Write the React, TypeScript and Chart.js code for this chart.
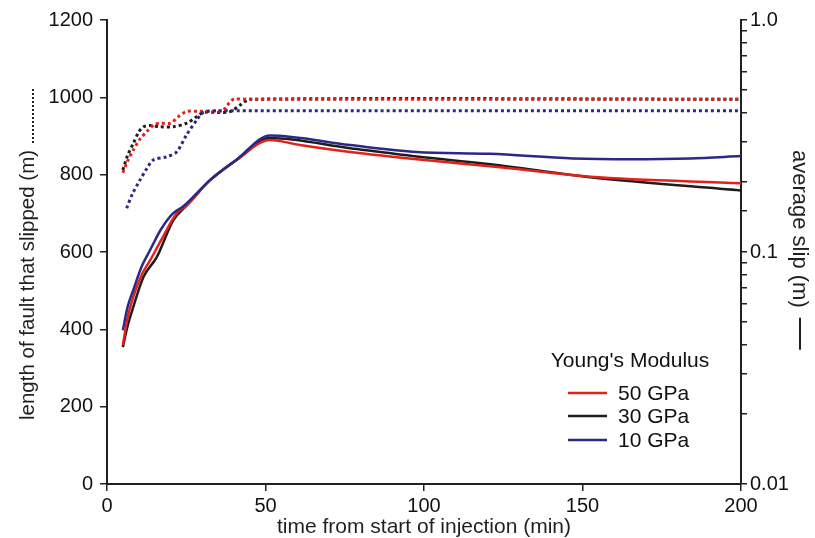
import { useEffect, useRef } from 'react';
import { Chart, registerables } from 'chart.js';

Chart.register(...registerables);

// ---- axis ticks / labels ----
const xTicks = [0, 50, 100, 150, 200];
const lengthTicks = [0, 200, 400, 600, 800, 1000, 1200];
const slipLabelValues = [0.01, 0.1, 1];
const slipTickLabels = ['0.01', '0.1', '1.0'];

const xTitle = 'time from start of injection (min)';
const leftTitle = 'length of fault that slipped (m)';
const rightTitle = 'average slip (m)';
const legendTitle = "Young's Modulus";

const moduli = ['50 GPa', '30 GPa', '10 GPa'];
const colors = ['#e3211c', '#1d1d1b', '#2b2886'];

// ---- length of fault that slipped (m), dotted ----
const len50T = [5, 6.5, 8.3, 10.5, 12.5, 15, 17, 20, 22.5, 25, 29, 33, 36.5, 38.5, 40, 45, 200];
const len50 = [805, 835, 864, 893, 911, 930, 933, 933, 950, 963, 964, 964, 966, 985, 995, 995, 995];

const len30T = [5, 6.5, 8.3, 10, 11.5, 13.6, 16.7, 20.9, 25.1, 28.3, 30.4, 35, 38.8, 42, 45.1, 200];
const len30 = [812, 850, 881, 910, 924, 927, 924, 924, 933, 950, 961, 961, 963, 980, 995, 995];

const len10T = [6.2, 8, 10.4, 12.5, 14.6, 18.8, 22, 25.1, 28.3, 30.4, 35, 200];
const len10 = [713, 750, 786, 815, 838, 846, 859, 903, 941, 961, 965, 965];

// ---- average slip (m), solid ----
const slip50T = [5, 6.5, 8.3, 11, 13.6, 17, 22, 25, 32.5, 40.9, 51.4, 60.9, 76.7, 97.7, 124, 152.4, 200];
const slip50 = [0.0397, 0.052, 0.064, 0.08, 0.092, 0.112, 0.147, 0.158, 0.204, 0.249, 0.304, 0.289, 0.27, 0.251, 0.232, 0.211, 0.198];

const slip30T = [5, 6.5, 8.3, 11.5, 15.7, 20.9, 25, 32.5, 40.9, 51.4, 76.7, 97.7, 121, 152.4, 200];
const slip30 = [0.0389, 0.048, 0.058, 0.078, 0.095, 0.137, 0.158, 0.204, 0.25, 0.31, 0.28, 0.258, 0.239, 0.21, 0.184];

const slip10T = [5, 6.5, 8.3, 11, 13.6, 17, 20.9, 24, 32.5, 40.9, 51.4, 76.7, 97.7, 120.8, 147, 165, 184, 200];
const slip10 = [0.046, 0.058, 0.0686, 0.087, 0.102, 0.125, 0.147, 0.157, 0.204, 0.25, 0.318, 0.289, 0.27, 0.265, 0.253, 0.251, 0.253, 0.259];

const FONT = '"Liberation Sans", Arial, sans-serif';
const AXIS = '#231f20';

const pts = (t: number[], v: number[]) => t.map((x, i) => ({ x, y: v[i] }));

const titlesAndLegend = {
  id: 'titlesAndLegend',
  afterDraw(chart: any) {
    const ctx = chart.ctx as CanvasRenderingContext2D;
    const area = chart.chartArea;
    ctx.save();
    ctx.fillStyle = AXIS;
    ctx.strokeStyle = AXIS;

    // x title
    ctx.font = `21px ${FONT}`;
    ctx.textAlign = 'center';
    ctx.textBaseline = 'alphabetic';
    ctx.fillText(xTitle, (area.left + area.right) / 2, 533);

    // left title (rotated, reading upward) + dotted leader
    ctx.font = `20.5px ${FONT}`;
    const lw = ctx.measureText(leftTitle).width;
    ctx.save();
    ctx.translate(34, 420);
    ctx.rotate(-Math.PI / 2);
    ctx.textAlign = 'left';
    ctx.fillText(leftTitle, 0, 0);
    ctx.restore();
    ctx.save();
    ctx.lineWidth = 2;
    ctx.setLineDash([2, 2]);
    ctx.beginPath();
    ctx.moveTo(33, 420 - lw - 7);
    ctx.lineTo(33, 420 - lw - 61);
    ctx.stroke();
    ctx.restore();

    // right title (rotated, reading downward) + solid leader
    ctx.font = `22px ${FONT}`;
    const rw = ctx.measureText(rightTitle).width;
    ctx.save();
    ctx.translate(793, 150);
    ctx.rotate(Math.PI / 2);
    ctx.textAlign = 'left';
    ctx.fillText(rightTitle, 0, 0);
    ctx.restore();
    ctx.save();
    ctx.lineWidth = 2;
    ctx.beginPath();
    ctx.moveTo(800, 150 + rw + 10);
    ctx.lineTo(800, 150 + rw + 42);
    ctx.stroke();
    ctx.restore();

    // legend
    ctx.font = `21px ${FONT}`;
    ctx.textAlign = 'center';
    ctx.textBaseline = 'middle';
    ctx.fillStyle = '#111';
    ctx.fillText(legendTitle, 630, 361);
    const rows = [393, 416, 440];
    chart.data.datasets.forEach((ds: any) => {
      if (ds.legendIndex === undefined) return;
      const y = rows[ds.legendIndex];
      ctx.strokeStyle = ds.borderColor;
      ctx.lineWidth = 2.5;
      ctx.beginPath();
      ctx.moveTo(568, y);
      ctx.lineTo(607, y);
      ctx.stroke();
      ctx.textAlign = 'left';
      ctx.fillStyle = '#111';
      ctx.fillText(ds.label, 618, y + 1);
    });
    ctx.restore();
  },
};

export default function App() {
  const ref = useRef<HTMLCanvasElement | null>(null);

  useEffect(() => {
    if (!ref.current) return;
    const dotted = (label: string, t: number[], v: number[], color: string) => ({
      label,
      data: pts(t, v),
      yAxisID: 'y',
      borderColor: color,
      borderWidth: 3,
      borderDash: [3, 3],
      pointRadius: 0,
      tension: 0.3,
      fill: false,
    });
    const solid = (label: string, t: number[], v: number[], color: string, legendIndex: number) => ({
      label,
      legendIndex,
      data: pts(t, v),
      yAxisID: 'y1',
      borderColor: color,
      borderWidth: 2.5,
      pointRadius: 0,
      cubicInterpolationMode: 'monotone',
      fill: false,
    });

    const chart = new Chart(ref.current, {
      type: 'line',
      data: {
        datasets: [
          solid(moduli[2], slip10T, slip10, colors[2], 2),
          solid(moduli[0], slip50T, slip50, colors[0], 0),
          solid(moduli[1], slip30T, slip30, colors[1], 1),
          dotted(moduli[2] + ' length', len10T, len10, colors[2]),
          dotted(moduli[0] + ' length', len50T, len50, colors[0]),
          dotted(moduli[1] + ' length', len30T, len30, colors[1]),
        ] as any,
      },
      options: {
        responsive: false,
        animation: false,
        layout: { padding: { top: 20, left: 0, right: 0, bottom: 0 } },
        plugins: { legend: { display: false }, tooltip: { enabled: false } },
        scales: {
          x: {
            type: 'linear',
            min: 0,
            max: 200,
            afterBuildTicks: (s: any) => {
              s.ticks = xTicks.map((value) => ({ value }));
            },
            afterFit: (s: any) => {
              s.height = 54;
            },
            grid: { drawOnChartArea: false, drawTicks: true, tickLength: 7, color: AXIS, lineWidth: 1.5 },
            border: { display: true, color: AXIS, width: 2 },
            ticks: {
              font: { family: FONT, size: 20 },
              color: '#111',
              padding: 3,
              maxRotation: 0,
              callback: (v: any) => String(v),
            },
          },
          y: {
            type: 'linear',
            position: 'left',
            min: 0,
            max: 1200,
            afterBuildTicks: (s: any) => {
              s.ticks = lengthTicks.map((value) => ({ value }));
            },
            afterFit: (s: any) => {
              s.width = 107;
            },
            grid: { drawOnChartArea: false, drawTicks: true, tickLength: 7, color: AXIS, lineWidth: 1.5 },
            border: { display: true, color: AXIS, width: 2 },
            ticks: {
              font: { family: FONT, size: 20 },
              color: '#111',
              padding: 7,
              callback: (v: any) => String(v),
            },
          },
          y1: {
            type: 'logarithmic',
            position: 'right',
            min: 0.01,
            max: 1,
            afterFit: (s: any) => {
              s.width = 74;
            },
            grid: { drawOnChartArea: false, drawTicks: true, tickLength: 6, color: AXIS, lineWidth: 1.5 },
            border: { display: true, color: AXIS, width: 2 },
            ticks: {
              autoSkip: false,
              font: { family: FONT, size: 20 },
              color: '#111',
              padding: 3,
              callback: (v: any) => {
                const i = slipLabelValues.findIndex((d) => Math.abs(Number(v) - d) < 1e-9);
                return i >= 0 ? slipTickLabels[i] : '';
              },
            },
          },
        },
      } as any,
      plugins: [titlesAndLegend],
    });
    return () => chart.destroy();
  }, []);

  return (
    <div style={{ position: 'fixed', left: 0, top: 0, width: 815, height: 538, background: '#fff' }}>
      <canvas ref={ref} width={815} height={538} />
    </div>
  );
}
